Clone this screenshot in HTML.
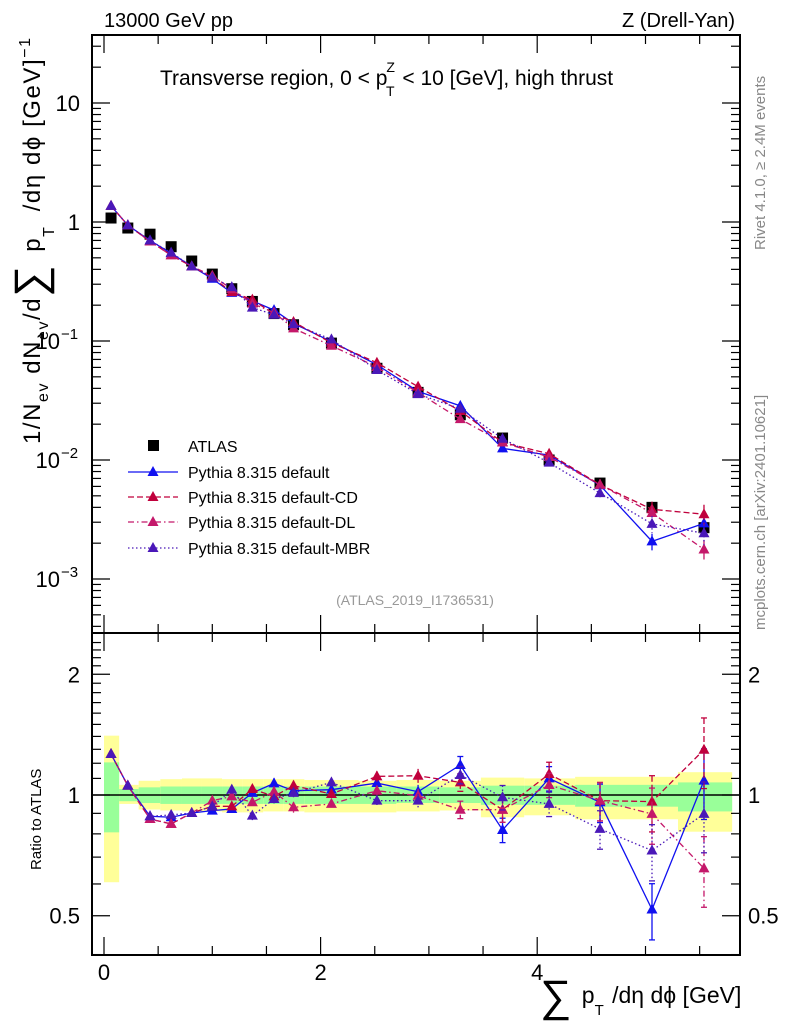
<!DOCTYPE html>
<html><head><meta charset="utf-8"><style>
body{margin:0;background:#fff;}
svg{display:block;font-family:"Liberation Sans",sans-serif;}
</style></head><body>
<svg id="c" width="786" height="1024" viewBox="0 0 786 1024"></svg>
<script>
const xCenters=[0.065,0.22,0.425,0.62,0.81,1.0,1.18,1.37,1.57,1.75,2.1,2.52,2.9,3.29,3.68,4.11,4.58,5.06,5.54];
const xEdges=[0,0.14,0.32,0.52,0.72,0.9,1.09,1.28,1.47,1.66,1.85,2.35,2.7,3.1,3.48,3.88,4.35,4.82,5.3,5.8];
const atlasVals=[1.08,0.89,0.79,0.62,0.47,0.365,0.275,0.215,0.17,0.137,0.096,0.059,0.037,0.024,0.0153,0.0100,0.0064,0.0040,0.0027];
const ratioDefault=[1.265,1.055,0.885,0.880,0.902,0.914,0.923,1.012,1.069,1.025,1.031,1.071,1.019,1.188,0.818,1.100,0.959,0.518,1.086];
const ratioCD=[1.265,1.055,0.871,0.847,0.902,0.937,0.937,1.035,0.992,1.055,1.006,1.113,1.117,1.075,0.919,1.128,0.968,0.963,1.297];
const ratioDL=[1.265,1.055,0.871,0.847,0.902,0.968,0.992,0.959,1.019,0.932,0.950,1.025,0.996,0.919,0.919,1.059,0.968,0.897,0.656];
const ratioMBR=[1.265,1.055,0.885,0.892,0.902,0.937,1.031,0.888,0.977,1.012,1.075,0.968,0.968,1.122,0.987,0.950,0.823,0.727,0.897];
const mcRelErr=[0.01,0.01,0.01,0.015,0.015,0.02,0.02,0.025,0.03,0.03,0.02,0.03,0.04,0.05,0.07,0.07,0.11,0.16,0.2];
const greenLo=[0.807,0.965,0.955,0.950,0.950,0.950,0.950,0.950,0.950,0.950,0.950,0.950,0.955,0.955,0.945,0.945,0.935,0.935,0.91];
const greenHi=[1.206,1.035,1.045,1.050,1.050,1.050,1.050,1.050,1.050,1.050,1.050,1.050,1.050,1.045,1.055,1.055,1.060,1.060,1.075];
const yellowLo=[0.606,0.950,0.920,0.915,0.910,0.910,0.905,0.905,0.910,0.910,0.905,0.905,0.910,0.915,0.880,0.890,0.870,0.870,0.810];
const yellowHi=[1.406,1.060,1.085,1.095,1.100,1.100,1.095,1.095,1.095,1.095,1.090,1.085,1.090,1.085,1.105,1.100,1.110,1.110,1.140];
const mainTickVals=[10,1,0.1,0.01,0.001];
const mainTickLbl=["10","1","10","10","10"];
const mainTickExp=["","","−1","−2","−3"];
const ratioTickVals=[2,1,0.5];
const xTickVals=[0,2,4];

const L=92,R=740,T=35,MB=633,RB=955;
const X=v=>104+(v)*108.3;
const YM=v=>222-119*Math.log10(v);
const YR=v=>795-401*Math.log10(v);
const svg=document.getElementById('c');
const NS='http://www.w3.org/2000/svg';
function mk(tag,attrs,parent){const e=document.createElementNS(NS,tag);for(const k in attrs)e.setAttribute(k,attrs[k]);(parent||svg).appendChild(e);return e;}

const defs=mk('defs',{});
const cp1=mk('clipPath',{id:'cm'},defs);mk('rect',{x:L,y:T,width:R-L,height:MB-T},cp1);
const cp2=mk('clipPath',{id:'cr'},defs);mk('rect',{x:L,y:MB,width:R-L,height:RB-MB},cp2);

const gBand=mk('g',{'clip-path':'url(#cr)'});


for(let i=0;i<xCenters.length;i++){
  const x0=X(xEdges[i]),x1=X(xEdges[i+1]);
  const y=mk('rect',{x:x0,y:YR(yellowHi[i]),width:x1-x0,height:YR(yellowLo[i])-YR(yellowHi[i]),fill:'#ffff99'},gBand);
  
  
  const g=mk('rect',{x:x0,y:YR(greenHi[i]),width:x1-x0,height:YR(greenLo[i])-YR(greenHi[i]),fill:'#99ff99'},gBand);
  
  
}
mk('line',{x1:L,x2:R,y1:YR(1),y2:YR(1),stroke:'#000','stroke-width':1.5});

const series=[
 {name:'default',r:ratioDefault,c:'#1010f0',d:''},
 {name:'default-CD',r:ratioCD,c:'#c0003c',d:'6,3'},
 {name:'default-DL',r:ratioDL,c:'#c4186a',d:'6,3,1.5,3'},
 {name:'default-MBR',r:ratioMBR,c:'#4a18b8',d:'1.5,2.5'}
];
function tri(x,y,c,p,nm){const t=mk('path',{d:`M${x},${y-6}L${x+5.5},${y+4}L${x-5.5},${y+4}Z`,fill:c},p);return t;}

const gA=mk('g',{'clip-path':'url(#cm)'});


atlasVals.forEach((v,i)=>{const s=mk('rect',{x:X(xCenters[i])-5.5,y:YM(v)-5.5,width:11,height:11,fill:'#000'},gA);

});

series.forEach(s=>{
 const gm=mk('g',{'clip-path':'url(#cm)'});
 
 
 const gr=mk('g',{'clip-path':'url(#cr)'});
 
 
 const pm=[],pr=[];
 s.r.forEach((r,i)=>{
  const v=atlasVals[i]*r,x=X(xCenters[i]);
  pm.push(x+','+YM(v));pr.push(x+','+YR(r));
  const e=mcRelErr[i];
  mk('line',{x1:x,x2:x,y1:YM(v*(1+e)),y2:YM(v*(1-e)),stroke:s.c,'stroke-width':1.3,'stroke-dasharray':s.d},gm);
  mk('line',{x1:x,x2:x,y1:YR(r*(1+e)),y2:YR(r*(1-e)),stroke:s.c,'stroke-width':1.3,'stroke-dasharray':s.d},gr);
  if(e>0.04){[r*(1+e),r*(1-e)].forEach(q=>mk('line',{x1:x-3,x2:x+3,y1:YR(q),y2:YR(q),stroke:s.c,'stroke-width':1.3},gr));}
 });
 mk('polyline',{points:pm.join(' '),fill:'none',stroke:s.c,'stroke-width':1.3,'stroke-dasharray':s.d},gm);
 mk('polyline',{points:pr.join(' '),fill:'none',stroke:s.c,'stroke-width':1.3,'stroke-dasharray':s.d},gr);
 s.r.forEach((r,i)=>{const x=X(xCenters[i]);tri(x,YM(atlasVals[i]*r),s.c,gm,'mc-point');tri(x,YR(r),s.c,gr,'ratio-point');});
});

mk('rect',{x:L,y:T,width:R-L,height:MB-T,fill:'none',stroke:'#000','stroke-width':2});
mk('rect',{x:L,y:MB,width:R-L,height:RB-MB,fill:'none',stroke:'#000','stroke-width':2});

for(let d=-4;d<=1;d++){for(let m=1;m<10;m++){const v=m*Math.pow(10,d);const y=YM(v);if(y<T||y>MB)continue;const len=m===1?18:9;
 mk('line',{x1:L,x2:L+len,y1:y,y2:y,stroke:'#000','stroke-width':1.2});mk('line',{x1:R-len,x2:R,y1:y,y2:y,stroke:'#000','stroke-width':1.2});}}
mainTickVals.forEach((v,i)=>{const t=mk('text',{x:mainTickExp[i]?60:80,y:YM(v)+8,'font-size':22,'text-anchor':'end'});
 t.textContent=mainTickLbl[i];
 
 
 if(mainTickExp[i]){const e=mk('text',{x:61,y:YM(v)-2,'font-size':15});e.textContent=mainTickExp[i];}
});
for(let v=0.4;v<=2.5;v+=0.1){const y=YR(v);if(y<MB||y>RB)continue;const mj=Math.abs(v-1)<0.01||Math.abs(v-2)<0.01||Math.abs(v-0.5)<0.01;const len=mj?18:9;
 mk('line',{x1:L,x2:L+len,y1:y,y2:y,stroke:'#000','stroke-width':1.2});mk('line',{x1:R-len,x2:R,y1:y,y2:y,stroke:'#000','stroke-width':1.2});}
ratioTickVals.forEach(v=>{
 const t=mk('text',{x:80,y:YR(v)+8,'font-size':22,'text-anchor':'end'});t.textContent=String(v);
 
 
 const t2=mk('text',{x:748,y:YR(v)+8,'font-size':22});t2.textContent=String(v);
 
 
});
for(let v=0;v<=5.8;v+=0.5){const x=X(v);const mj=Math.abs(v%2)<0.01;const len=mj?18:9;
 [[T,T+len],[MB-len,MB],[MB,MB+len],[RB-len,RB]].forEach(p=>mk('line',{x1:x,x2:x,y1:p[0],y2:p[1],stroke:'#000','stroke-width':1.2}));}
xTickVals.forEach(v=>{const t=mk('text',{x:X(v),y:980,'font-size':22,'text-anchor':'middle'});t.textContent=String(v);
 
 });

function txt(x,y,s,sz,extra,name){const t=mk('text',Object.assign({x:x,y:y,'font-size':sz},extra||{}));t.textContent=s;return t;}
function rich(x,y,parts,sz,extra,name){const t=mk('text',Object.assign({x:x,y:y,'font-size':sz},extra||{}));
 parts.forEach(p=>{const s=mk('tspan',{},t);if(p.sz)s.setAttribute('font-size',p.sz);if(p.dy)s.setAttribute('dy',p.dy);if(p.dx)s.setAttribute('dx',p.dx);s.textContent=p.t;});
 return t;}

txt(104,27,'13000 GeV pp',20,{},'energy-label');
txt(735,27,'Z (Drell-Yan)',20,{'text-anchor':'end'},'process-label');
rich(160,85,[{t:'Transverse region, 0 < p'},{t:'Z',sz:14,dy:-13,dx:-1},{t:'T',sz:14,dx:-9,dy:24},{t:' < 10 [GeV], high thrust',dy:-11,dx:2}],21,{},'plot-title');
txt(415,605,'(ATLAS_2019_I1736531)',14,{'text-anchor':'middle',fill:'#999'},'analysis-id');
txt(765,250,'Rivet 4.1.0, ≥ 2.4M events',15,{fill:'#888',transform:'rotate(-90 765 250)'},'rivet-label');
txt(765,630,'mcplots.cern.ch [arXiv:2401.10621]',15,{fill:'#888',transform:'rotate(-90 765 630)'},'mcplots-label');
rich(40,444,[{t:'1/N'},{t:'ev',sz:16,dy:8},{t:' dN',dy:-8},{t:'ev',sz:16,dy:8},{t:'/d',dy:-8},{t:'∑',sz:44,dy:5},{t:' p',dy:-5,dx:4},{t:'T',sz:16,dy:14},{t:' /dη dϕ  [GeV]',dy:-14,dx:6},{t:'−1',sz:16,dy:-10}],24,{transform:'rotate(-90 40 444)',textLength:406,lengthAdjust:'spacing'},'y-axis-title');
txt(41,870,'Ratio to ATLAS',15,{transform:'rotate(-90 41 870)'},'ratio-y-title');
rich(540,1003,[{t:'∑',sz:44,dy:8},{t:' p',dy:-8,dx:4},{t:'T',sz:15,dy:12},{t:' /dη dϕ [GeV]',dy:-12,dx:2}],23,{},'x-axis-title');

const lg=mk('g',{});


const ly=[446,472,497,522,548];
mk('rect',{x:148,y:ly[0]-6,width:11,height:11,fill:'#000'},lg);
txt(188,ly[0]+6,'ATLAS',16,{},'legend-atlas');
series.forEach((s,i)=>{const y=ly[i+1];
 mk('line',{x1:128,x2:178,y1:y,y2:y,stroke:s.c,'stroke-width':1.3,'stroke-dasharray':s.d},lg);
 tri(153,y,s.c,lg,'legend-marker');
 txt(188,y+6,'Pythia 8.315 '+s.name,16,{},'legend-entry');});
</script>
</body></html>
